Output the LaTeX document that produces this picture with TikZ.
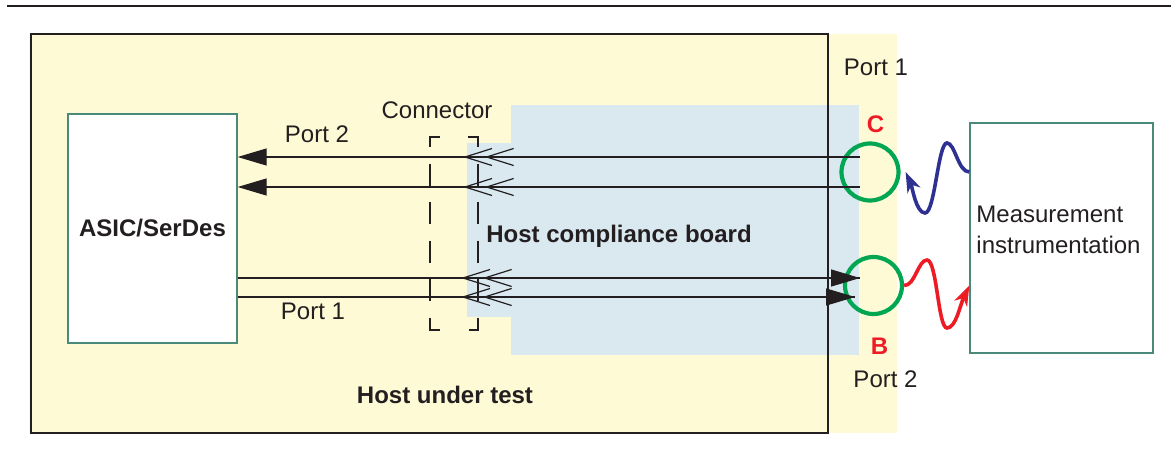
\documentclass[tikz,border=0pt]{standalone}
\usepackage{fontspec}
\setmainfont{Liberation Sans}
\usepackage{tikz}
\usetikzlibrary{arrows.meta}

\definecolor{hostyellow}{RGB}{255,250,214}
\definecolor{boardblue}{RGB}{218,232,240}
\definecolor{boxteal}{RGB}{74,138,122}
\definecolor{ringgreen}{RGB}{0,166,81}
\definecolor{wavered}{RGB}{237,28,36}
\definecolor{waveblue}{RGB}{46,49,146}
\definecolor{inkgray}{RGB}{35,31,32}
\newcommand{\labelsize}{\fontsize{24}{31}\selectfont}

\begin{document}
\begin{tikzpicture}[x=1pt,y=-1pt]
  \tikzset{every node/.style = {font=\labelsize,text=inkgray}}
  \tikzset{heading/.style = {font=\labelsize\bfseries}}
  \tikzset{portletter/.style = {font=\labelsize\bfseries,text=wavered}}
  \tikzset{unit/.style = {draw=boxteal,line width=1.3pt,fill=white,inner sep=0pt}}
  \tikzset{ring/.style = {shape=circle,draw=ringgreen,line width=4.2pt,minimum size=57pt,inner sep=0pt}}
  \tikzset{signal/.style = {line width=1.2pt,draw=inkgray}}
  \tikzset{bigtip/.style = {-{Triangle[length=29pt,width=17pt]}}}
  \tikzset{chevron/.style = {-{Straight Barb[length=27pt,width=17pt,sep=-8pt]Straight Barb[length=27pt,width=17pt]}}}
  \tikzset{wave/.style = {line width=3.6pt,-{Stealth[length=20pt,width=14pt,inset=6pt]}}}
  \useasboundingbox (0,0) rectangle (1171,463);

  \draw[line width=1.5pt,inkgray] (7,6) -- (1171,6);
  \fill[hostyellow] (29,34) rectangle (897,433);
  \fill[boardblue] (511,105) rectangle (859,355);
  \fill[boardblue] (467,143) rectangle (511,317);
  \draw[line width=1.3pt,inkgray] (31,34) rectangle (828,433);

  \draw[signal,dash pattern=on 22pt off 16.5pt,dash phase=2pt] (440,137) -- (430,137) -- (430,330) -- (440,330);
  \draw[signal,dash pattern=on 22pt off 16.5pt,dash phase=2pt] (468,137) -- (478,137) -- (478,330) -- (468,330);

  \node[unit,minimum width=169pt,minimum height=229pt,font=\labelsize\bfseries] (asic) at (152.5,228.5) {ASIC/SerDes};
  \node[unit,minimum width=183pt,minimum height=230pt] (meas) at (1061.5,238) {};
  \node[align=left] (measlabel) at (1058.5,229.5) {Measurement\\instrumentation};
  \node[ring] (ringC) at (870,172) {};
  \node[ring] (ringB) at (873.5,285.5) {};

  \coordinate (p2a) at (860,157);
  \coordinate (p2b) at (860,187);
  \coordinate (p1a) at (860,278);
  \coordinate (p1b) at (855,297);
  \coordinate (k2a) at (463,157);
  \coordinate (k2b) at (463,187);
  \coordinate (k1a) at (461,278);
  \coordinate (k1b) at (461,297);

  \foreach \from/\to in {p2a/k2a, p2b/k2b, p1a/k1a, p1b/k1b}
    \draw[signal,chevron] (\from) -- (\to);
  \foreach \from in {p2a, p2b}
    \draw[signal,bigtip] (\from) -- (asic.east |- \from);
  \foreach \to in {p1a, p1b}
    \draw[signal,bigtip] (asic.east |- \to) -- (\to);

  \draw[wave,waveblue] (meas.west |- ringC) .. controls (958,172) and (955,143) .. (947,143)
    .. controls (938,143) and (935,213) .. (925,213) .. controls (916,213) and (912,186) .. ([xshift=5pt]ringC.east);
  \draw[wave,wavered] (ringB.east) .. controls (915,286) and (918,260) .. (927,260)
    .. controls (937,260) and (938,328) .. (947,328) .. controls (956,328) and (960,305) .. (meas.west |- ringB);

  \node (conn) at (437,110) {Connector};
  \node (p2left) at (317,134) {Port 2};
  \node (p1left) at (313,311) {Port 1};
  \node (p1right) at (876,67.5) {Port 1};
  \node (p2right) at (885.5,379.5) {Port 2};
  \node[portletter] (lblC) at (875.5,124) {C};
  \node[portletter] (lblB) at (879.5,346) {B};
  \node[heading] (board) at (619,236.5) {Host compliance board};
  \node[heading] (host) at (445,395) {Host under test};
\end{tikzpicture}
\end{document}
